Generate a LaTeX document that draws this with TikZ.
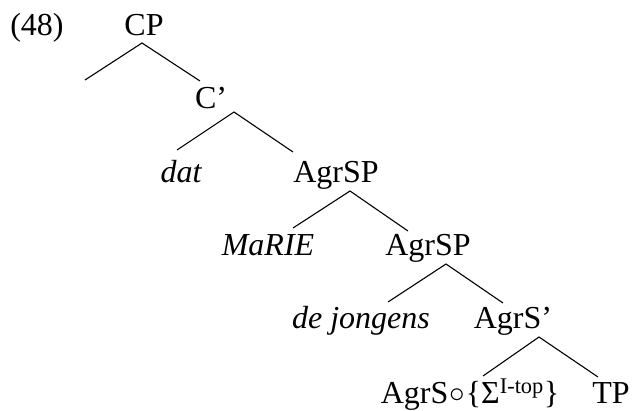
\documentclass[tikz,border=0pt]{standalone}
\usepackage{fontspec}
\usepackage{graphicx}
\setmainfont{Liberation Serif}

\begin{document}
\begin{tikzpicture}[%
  x=1pt, y=-1pt,
  every node/.style={inner sep=0pt, anchor=base, font=\fontsize{32}{38}\selectfont},
  word/.style={font=\fontsize{32}{38}\selectfont\itshape},
  branch/.style={line width=1.1pt}]
\useasboundingbox (0,0) rectangle (632,410);
% labels
\node (ex) at (37,35) {(48)};
\node (cp) at (144,35) {CP};
\node (cbar) at (211,108) {C’};
\node[word] (dat) at (181,182) {dat};
\node (agrsp) at (336,182) {AgrSP};
\node[word] (marie) at (268,255) {MaRIE};
\node (agrspb) at (428,255) {AgrSP};
\node[word] (jongens) at (361,328) {de jongens};
\node (agrsbar) at (513,328) {AgrS’};
\node (agrs) at (470,403) {AgrS\kern1pt\raisebox{1pt}{\scalebox{1.25}{$\circ$}}\kern1pt\{Σ\textsuperscript{I-top}\}};
\node (tp) at (611,403) {TP};
\coordinate (spec) at (85,80);
% branches
\draw[branch] (spec) -- ([shift={(-2,8)}]cp.base) -- ([shift={(-11,-27)}]cbar.base);
\draw[branch] ([shift={(-4,-32)}]dat.base) -- ([shift={(23,4)}]cbar.base) -- ([shift={(-43,-30)}]agrsp.base);
\draw[branch] ([shift={(25,-27)}]marie.base) -- ([shift={(14,9)}]agrsp.base) -- ([shift={(-20,-24)}]agrspb.base);
\draw[branch] ([shift={(27,-26)}]jongens.base) -- ([shift={(18,9)}]agrspb.base) -- ([shift={(-10,-25)}]agrsbar.base);
\draw[branch] ([shift={(13,-27)}]agrs.base) -- ([shift={(26,9)}]agrsbar.base) -- ([shift={(-13,-26)}]tp.base);
\end{tikzpicture}
\end{document}
